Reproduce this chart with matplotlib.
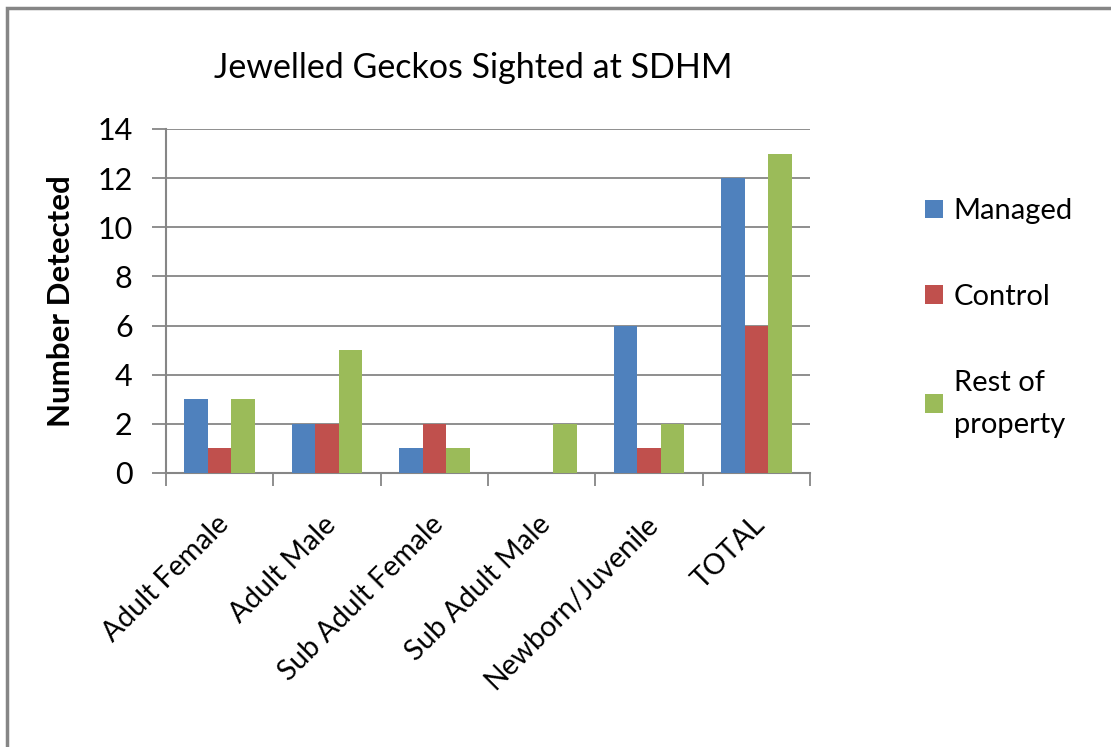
import matplotlib.pyplot as plt
import numpy as np
from matplotlib.patches import Rectangle, Patch

# --- dados ---
categorias = ['Adult Female', 'Adult Male', 'Sub Adult Female', 'Sub Adult Male',
              'Newborn/Juvenile', 'TOTAL']
managed = [3, 2, 1, 0, 6, 12]
control = [1, 2, 2, 0, 1, 6]
rest_of_property = [3, 5, 1, 2, 2, 13]
series_nomes = ['Managed', 'Control', 'Rest of\nproperty']
cores = ['#4F81BD', '#C0504D', '#9BBB59']

plt.rcParams['font.family'] = ['Lato', 'DejaVu Sans']

fig = plt.figure(figsize=(11.11, 7.47), dpi=100)
W, H = 1111, 747
# area do grafico em pixels: x 166..810, y 129..473
ax = fig.add_axes([166 / W, 1 - 473 / H, (810 - 166) / W, (473 - 129) / H])

# moldura externa (so esquerda e topo visiveis)
fig.patches.append(Rectangle((7 / W, -0.05), 1.2, 1 - 8 / H + 0.05, transform=fig.transFigure,
                             fill=False, edgecolor='#868686', linewidth=2.5))

x = np.arange(len(categorias))
largura = 0.22
for i, (vals, cor) in enumerate(zip([managed, control, rest_of_property], cores)):
    ax.bar(x + (i - 1) * largura, vals, width=largura, color=cor, zorder=3)

ax.set_xlim(-0.5, len(categorias) - 0.5)
ax.set_ylim(0, 14)
ax.set_yticks(range(0, 15, 2))
ax.yaxis.grid(True, color='#868686', linewidth=1.3)
ax.set_axisbelow(True)
for s in ['top', 'right']:
    ax.spines[s].set_visible(False)
for s in ['left', 'bottom']:
    ax.spines[s].set_color('#868686')
    ax.spines[s].set_linewidth(1.5)

ax.set_xticks(np.arange(len(categorias) + 1) - 0.5)
ax.set_xticklabels([])
ax.tick_params(axis='x', length=9, width=1.3, color='#868686')
ax.tick_params(axis='y', length=10, width=1.3, color='#868686', labelsize=22, pad=14)

for xi, nome in zip(x, categorias):
    ax.text(xi - 0.04, -1.55, nome, rotation=45, ha='right', va='top',
            rotation_mode='anchor', fontsize=20.5)

ax.set_ylabel('Number Detected', fontsize=22.5, fontweight='bold', labelpad=16)
fig.text(473 / W, 1 - 68 / H, 'Jewelled Geckos Sighted at SDHM', ha='center', va='center',
         fontsize=24.5)

handles = [Patch(facecolor=c, edgecolor='none') for c in cores]
leg = fig.legend(handles, series_nomes, loc='upper left', bbox_to_anchor=(899 / W, 1 - 172 / H),
                 frameon=False, fontsize=21, handlelength=0.62, handleheight=0.62,
                 handletextpad=0.35, labelspacing=2.05)
for t in leg.get_texts():
    t.set_linespacing(1.75)

fig.savefig('out.png', dpi=100)
